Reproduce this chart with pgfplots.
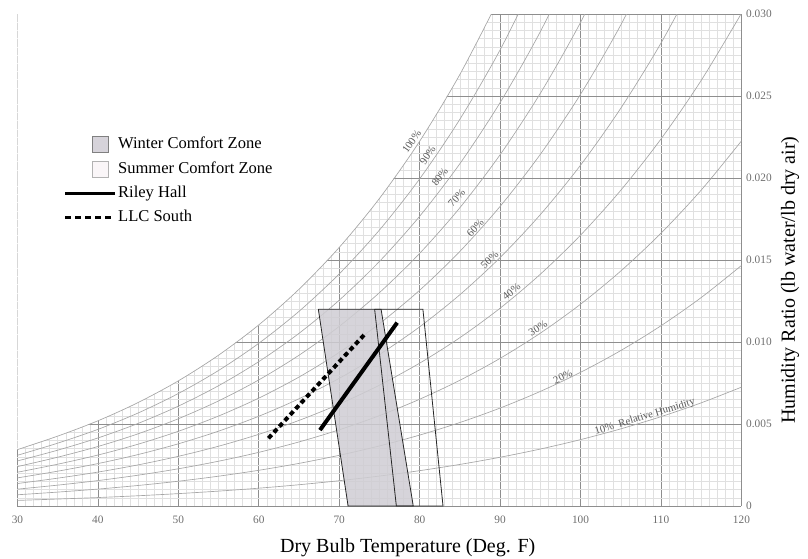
\documentclass[border=0pt]{standalone}
\usepackage{fontspec}
\setmainfont{Liberation Serif}
\usepackage{pgfplots}
\pgfplotsset{compat=1.18}

\definecolor{gridmajor}{HTML}{8E8E8E}
\definecolor{gridminor}{HTML}{E0E0E0}
\definecolor{rhline}{HTML}{A6A6A6}
\definecolor{winterfill}{HTML}{CFCDD3}
\definecolor{winterleg}{HTML}{D6D3DA}
\definecolor{summerleg}{HTML}{FAF6F8}
\definecolor{ticktext}{HTML}{6E6E6E}

\begin{document}
\begin{tikzpicture}
\begin{axis}[
  name=ax,
  scale only axis, width=543pt, height=369pt,
  xmin=30, xmax=120, ymin=0, ymax=0.03,
  xtick={30,40,...,120},
  ytick={0,0.005,0.01,0.015,0.02,0.025,0.03},
  yticklabels={0,0.005,0.010,0.015,0.020,0.025,0.030},
  scaled y ticks=false,
  minor x tick num=9, minor y tick num=9,
  grid=both,
  major grid style={draw=gridmajor, line width=0.5pt},
  minor grid style={draw=gridminor, line width=0.35pt},
  axis line style={draw=none},
  major tick length=0pt, minor tick length=0pt,
  yticklabel pos=right,
  ticklabel style={font=\fontsize{8.5}{10}\selectfont, text=ticktext},
  /pgf/number format/assume math mode=true,
  xticklabel style={yshift=-4pt},
  xlabel={Dry Bulb Temperature (Deg. F)},
  ylabel={Humidity Ratio (lb water/lb dry air)},
  every axis x label/.style={at={(axis description cs:0.539,-0.095)}, anchor=base, font=\fontsize{15}{18}\selectfont},
  every axis y label/.style={at={(axis description cs:1.067,0.459)}, anchor=center, rotate=90, font=\fontsize{15}{18}\selectfont},
  legend style={at={(axis cs:35.74,0.02262)}, anchor=north west, draw=none, fill=none,
    font=\fontsize{12.4}{14}\selectfont, row sep=4.3pt, inner sep=0pt,
    nodes={inner xsep=1pt, inner ysep=1pt, text height=9pt, text depth=3pt}},
  legend cell align=left,
]

% white area above the saturation line hides the grid there
\addplot[draw=none, fill=white, forget plot] coordinates {
  (30,0.003439)(35,0.004261)(40,0.005195)(45,0.006309)(50,0.007631)(55,0.009197)
  (60,0.011044)(65,0.013217)(70,0.015768)(75,0.018755)(80,0.022245)(85,0.026317)
  (90,0.031061)(30,0.0311)(30,0.003439)};

% relative humidity lines, 100% down to 10%
\pgfplotsset{rh/.style={draw=rhline, line width=0.5pt, smooth, forget plot}}
\addplot[rh] coordinates {(30,0.003439)(35,0.004261)(40,0.005195)(45,0.006309)(50,0.007631)(55,0.009197)(60,0.011044)(65,0.013217)(70,0.015768)(75,0.018755)(80,0.022245)(85,0.026317)(90,0.031061)};
\addplot[rh] coordinates {(30,0.003093)(35,0.003832)(40,0.004672)(45,0.005672)(50,0.006860)(55,0.008265)(60,0.009922)(65,0.011870)(70,0.014155)(75,0.016829)(80,0.019950)(85,0.023586)(90,0.027816)(95,0.032733)};
\addplot[rh] coordinates {(30,0.002748)(35,0.003404)(40,0.004149)(45,0.005037)(50,0.006090)(55,0.007336)(60,0.008804)(65,0.010529)(70,0.012551)(75,0.014914)(80,0.017670)(85,0.020877)(90,0.024603)(95,0.028927)(100,0.033937)};
\addplot[rh] coordinates {(30,0.002403)(35,0.002976)(40,0.003628)(45,0.004403)(50,0.005322)(55,0.006409)(60,0.007690)(65,0.009193)(70,0.010954)(75,0.013011)(80,0.015407)(85,0.018191)(90,0.021422)(95,0.025165)(100,0.029494)(105,0.034494)};
\addplot[rh] coordinates {(30,0.002059)(35,0.002549)(40,0.003107)(45,0.003770)(50,0.004556)(55,0.005486)(60,0.006580)(65,0.007863)(70,0.009366)(75,0.011119)(80,0.013159)(85,0.015528)(90,0.018272)(95,0.021446)(100,0.025110)(105,0.029334)(110,0.034187)};
\addplot[rh] coordinates {(30,0.001715)(35,0.002123)(40,0.002587)(45,0.003138)(50,0.003792)(55,0.004565)(60,0.005473)(65,0.006539)(70,0.007785)(75,0.009238)(80,0.010927)(85,0.012886)(90,0.015152)(95,0.017769)(100,0.020785)(105,0.024254)(110,0.028231)(115,0.032786)};
\addplot[rh] coordinates {(30,0.001371)(35,0.001697)(40,0.002068)(45,0.002508)(50,0.003030)(55,0.003646)(60,0.004371)(65,0.005220)(70,0.006213)(75,0.007369)(80,0.008711)(85,0.010266)(90,0.012063)(95,0.014135)(100,0.016518)(105,0.019253)(110,0.022381)(115,0.025955)(120,0.030041)};
\addplot[rh] coordinates {(30,0.001028)(35,0.001272)(40,0.001550)(45,0.001879)(50,0.002270)(55,0.002731)(60,0.003272)(65,0.003907)(70,0.004648)(75,0.005510)(80,0.006511)(85,0.007668)(90,0.009004)(95,0.010541)(100,0.012307)(105,0.014329)(110,0.016636)(115,0.019265)(120,0.022262)};
\addplot[rh] coordinates {(30,0.000685)(35,0.000848)(40,0.001032)(45,0.001252)(50,0.001511)(55,0.001818)(60,0.002178)(65,0.002599)(70,0.003091)(75,0.003663)(80,0.004325)(85,0.005091)(90,0.005974)(95,0.006988)(100,0.008151)(105,0.009480)(110,0.010993)(115,0.012712)(120,0.014666)};
\addplot[rh] coordinates {(30,0.000342)(35,0.000424)(40,0.000516)(45,0.000625)(50,0.000755)(55,0.000908)(60,0.001087)(65,0.001297)(70,0.001542)(75,0.001826)(80,0.002155)(85,0.002535)(90,0.002973)(95,0.003474)(100,0.004049)(105,0.004704)(110,0.005448)(115,0.006292)(120,0.007248)};

% comfort zones
\addplot[draw=none, fill=winterfill, fill opacity=0.85, forget plot] coordinates {(67.4,0.012)(75.2,0.012)(79.2,0)(71.1,0)(67.4,0.012)};
\addplot[draw=black!85, line width=0.6pt, forget plot] coordinates {(67.4,0.012)(75.2,0.012)(79.2,0)(71.1,0)(67.4,0.012)};
\addplot[draw=black!85, line width=0.6pt, forget plot] coordinates {(74.4,0.012)(80.4,0.012)(82.9,0)(77.1,0)(74.4,0.012)};

% buildings
\addplot[black, line width=3pt, forget plot] coordinates {(67.6,0.00463)(77.2,0.01118)};
\addplot[black, line width=3pt, dash pattern=on 3.5pt off 2.5pt, forget plot] coordinates {(61.2,0.00413)(73.2,0.01049)};

% legend
\addlegendimage{legend image code/.code={\path[draw=none, fill=none] (0pt,0pt) -- (37.5pt,0pt); \draw[draw=gray, fill=winterleg, line width=0.5pt] (20.25pt,-6pt) rectangle (32.25pt,6pt);}}
\addlegendentry{Winter Comfort Zone}
\addlegendimage{legend image code/.code={\path[draw=none, fill=none] (0pt,0pt) -- (37.5pt,0pt); \draw[draw=black!30, fill=summerleg, line width=0.5pt] (20.25pt,-6pt) rectangle (32.25pt,6pt);}}
\addlegendentry{Summer Comfort Zone}
\addlegendimage{legend image code/.code={\draw[black, line width=2.2pt] (0pt,0pt) -- (37.5pt,0pt);}}
\addlegendentry{Riley Hall}
\addlegendimage{legend image code/.code={\draw[black, line width=2.2pt, dash pattern=on 4.5pt off 3pt] (0pt,0pt) -- (37.5pt,0pt);}}
\addlegendentry{LLC South}

% RH labels
\tikzset{rhlab/.style={font=\fontsize{8}{9}\selectfont, text=black!65, inner sep=0pt}}
\node[rhlab, rotate=55] at (axis cs:79.0,0.02221) {100\%};
\node[rhlab, rotate=56] at (axis cs:81.0,0.0214) {90\%};
\node[rhlab, rotate=52] at (axis cs:82.5,0.02006) {80\%};
\node[rhlab, rotate=48] at (axis cs:84.6,0.01878) {70\%};
\node[rhlab, rotate=47] at (axis cs:86.9,0.01695) {60\%};
\node[rhlab, rotate=42] at (axis cs:88.7,0.0150) {50\%};
\node[rhlab, rotate=39] at (axis cs:91.4,0.01307) {40\%};
\node[rhlab, rotate=32] at (axis cs:94.7,0.01085) {30\%};
\node[rhlab, rotate=25] at (axis cs:97.8,0.00787) {20\%};
\node[rhlab, rotate=17] at (axis cs:108.0,0.00543) {10\%\ \ Relative Humidity};
\end{axis}
\pgfresetboundingbox
\path[use as bounding box] ([xshift=-13.1pt,yshift=-39pt]ax.south west) rectangle ([xshift=49.9pt,yshift=10.5pt]ax.north east);
\end{tikzpicture}
\end{document}
